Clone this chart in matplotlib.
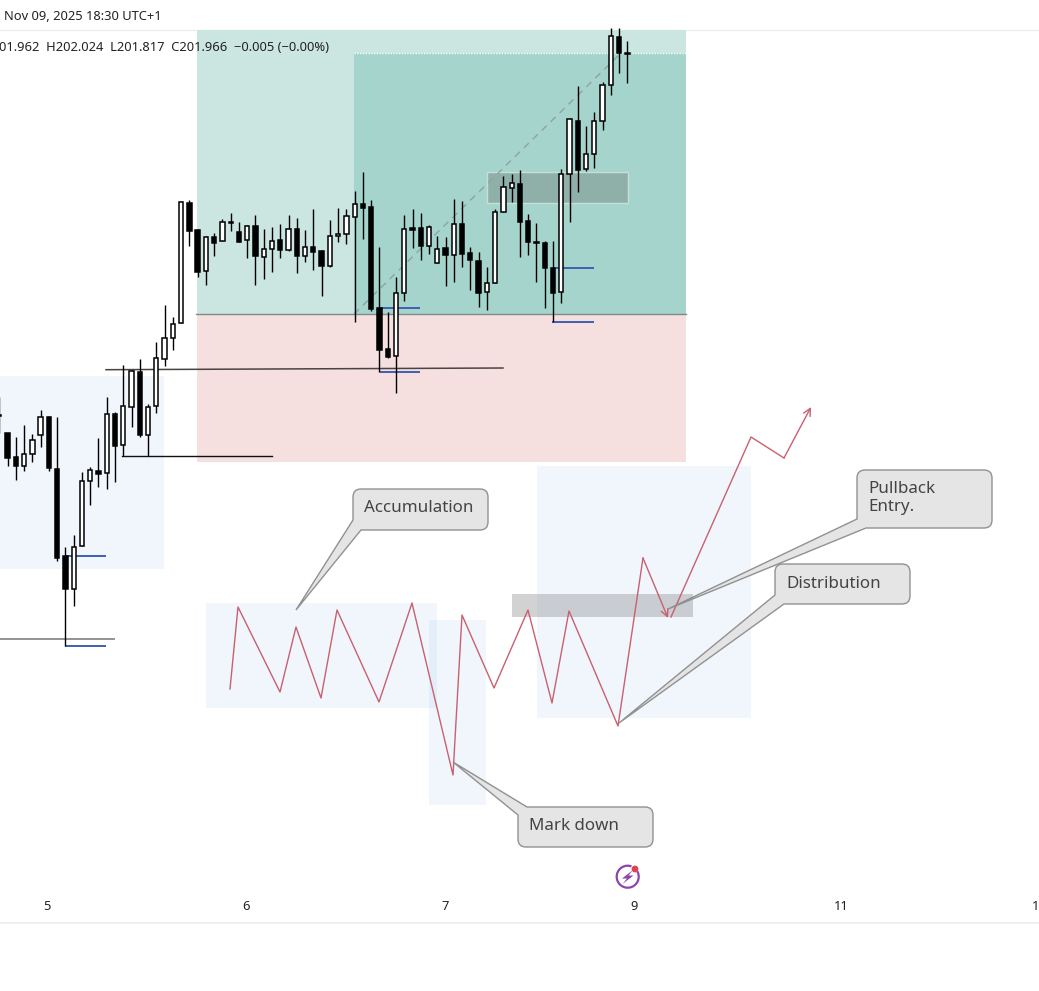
#!/usr/bin/env python3
# -*- coding: utf-8 -*-
import matplotlib
matplotlib.use("Agg")
import matplotlib.pyplot as plt
from matplotlib.patches import Rectangle, PathPatch, Circle, Arc, Polygon
from matplotlib.path import Path

# candle values are read straight off the screenshot, in chart y units (down = larger)
opens = [415, 433, 457, 466, 454, 435, 417, 469, 556, 589, 546, 481, 471, 473, 414, 445, 407, 372, 435, 406,
         359, 338, 323, 203, 230, 271, 237, 241, 222, 232, 240, 226, 257, 249, 240, 250, 229, 256, 247, 251,
         266, 236, 234, 217, 204, 207, 308, 349, 356, 293, 228, 228, 246, 263, 248, 255, 224, 253, 261, 292,
         283, 212, 188, 184, 221, 242, 243, 268, 292, 174, 121, 169, 154, 121, 85, 37, 53]
closes = [415, 458, 466, 454, 440, 417, 468, 558, 589, 547, 481, 470, 474, 414, 446, 406, 371, 435, 407, 358,
          338, 324, 202, 231, 272, 237, 243, 222, 222, 242, 226, 256, 249, 241, 250, 229, 256, 247, 252, 266,
          236, 234, 216, 204, 208, 309, 350, 357, 293, 229, 230, 246, 227, 249, 255, 224, 254, 260, 293, 283,
          212, 187, 183, 222, 242, 242, 268, 293, 174, 119, 170, 154, 121, 85, 36, 53, 53]
highs = [397, 433, 437, 425, 434, 410, 416, 417, 547, 535, 472, 467, 438, 397, 412, 365, 370, 359, 404, 342,
         305, 317, 201, 200, 229, 236, 233, 219, 213, 222, 225, 215, 229, 227, 224, 215, 218, 230, 209, 250,
         220, 208, 209, 191, 172, 200, 247, 312, 277, 215, 209, 213, 225, 236, 237, 199, 201, 247, 252, 267,
         209, 176, 174, 170, 214, 223, 241, 241, 169, 118, 86, 126, 112, 82, 28, 28, 41]
lows = [433, 466, 480, 471, 462, 447, 471, 561, 646, 606, 546, 505, 487, 489, 482, 456, 427, 437, 456, 413,
        366, 350, 323, 246, 277, 285, 256, 241, 231, 242, 258, 285, 279, 272, 258, 251, 273, 262, 270, 296,
        267, 242, 244, 322, 239, 311, 372, 358, 393, 301, 248, 260, 254, 263, 286, 282, 267, 290, 307, 310,
        283, 212, 202, 257, 255, 282, 308, 322, 303, 222, 192, 171, 168, 130, 95, 73, 83]

zigzag_x = [230, 238, 280, 296, 321, 337, 379, 412, 453, 462, 494, 528, 552, 569, 618, 643, 668]
zigzag_y = [689, 607, 692, 627, 698, 610, 702, 603, 775, 615, 688, 610, 703, 611, 726, 558, 618]
rally_x = [671, 751, 784, 811]
rally_y = [617, 437, 458, 407]

date_pos = [47, 246, 445, 634, 841, 1036]
date_labels = ["5", "6", "7", "9", "11", "1"]

header_date = "Nov 09, 2025 18:30 UTC+1"
header_ohlc = "01.962  H202.024  L201.817  C201.966  \u22120.005 (\u22120.00%)"

X0 = -0.7
STEP = 8.264
BODY_W = 4.3
RED = "#c9606f"
UI_FONT = ["Noto Sans", "DejaVu Sans"]

fig = plt.figure(figsize=(10.39, 9.91), dpi=100)
ax = fig.add_axes([0, 0, 1, 1])
ax.set_xlim(0, 1039)
ax.set_ylim(991, 0)
ax.axis("off")


def box(x0, y0, x1, y1, **kw):
    ax.add_patch(Rectangle((x0, y0), x1 - x0, y1 - y0, **kw))


def callout(x0, y0, x1, y1, tip, a, b, top_tail=False):
    # rounded box with the tail cut into its left corner
    r = 8
    C3, L4 = Path.CURVE3, Path.LINETO
    v = [(x1 - r, y0), (x1, y0), (x1, y0 + r), (x1, y1 - r), (x1, y1), (x1 - r, y1)]
    c = [Path.MOVETO, C3, C3, L4, C3, C3]
    if top_tail:
        v += [(x0 + r, y1), (x0, y1), (x0, y1 - r), a, tip, b]
        c += [L4, C3, C3, L4, L4, L4]
    else:
        v += [b, tip, a, (x0, y0 + r), (x0, y0), (x0 + r, y0)]
        c += [L4, L4, L4, L4, C3, C3]
    v.append(v[0])
    c.append(Path.CLOSEPOLY)
    ax.add_patch(PathPatch(Path(v, c), fc="#e4e4e4", ec="#8c8c8c", lw=1, alpha=0.95, zorder=8))


def red_arrow(xs_, ys_):
    # last leg carries the open arrow head
    ax.plot(xs_[:-1], ys_[:-1], color=RED, lw=1, zorder=6)
    ax.annotate("", xy=(xs_[-1], ys_[-1]), xytext=(xs_[-2], ys_[-2]), zorder=6,
                arrowprops=dict(arrowstyle="->", color=RED, lw=1, mutation_scale=13, shrinkA=0, shrinkB=0))


# position boxes
box(197, 30, 686, 314, fc="#cbe6e1", ec="none", zorder=1)
box(354, 53, 686, 314, fc="#a5d4cc", ec="none", zorder=1.1)
box(197, 314, 686, 462, fc="#f6dfdf", ec="none", zorder=1)
ax.plot([196, 686], [313.5, 313.5], color="#7f8a88", lw=1, zorder=2)
ax.plot([354, 686], [53, 53], color="white", lw=1, ls=(0, (1, 1)), zorder=2)

# blue zones
for bx in [(0, 376, 164, 569), (206, 603, 437, 708), (429, 620, 486, 805), (537, 466, 751, 718)]:
    box(*bx, fc="#4d8fe8", alpha=0.075, ec="none", zorder=1.2)

# grey zones
box(487, 172, 628, 203, fc="#8fb0a9", ec="#c5dfd9", lw=1, zorder=2)
box(512, 594, 693, 617, fc="#7f8080", alpha=0.35, ec="none", zorder=2)

ax.plot([354, 622], [314, 52], color="#8fa3a0", lw=1, ls=(0, (5, 4)), zorder=2.5)

# level lines
ax.plot([106, 503], [369.7, 368], color="#4a4343", lw=1.1, zorder=3)
ax.plot([122, 272], [456, 456], color="#111111", lw=1, zorder=3)
ax.plot([0, 114], [639, 639], color="#8a8a8a", lw=1.3, zorder=3)
for lx0, lx1, ly in [(380, 420, 308), (380, 420, 372), (553, 594, 268), (552, 594, 322), (66, 106, 556), (65, 106, 646)]:
    ax.plot([lx0, lx1], [ly, ly], color="#3f5fb5", lw=1.4, zorder=3, solid_capstyle="butt")

# candles
xs = [X0 + STEP * i for i in range(len(opens))]
ax.vlines(xs, highs, lows, color="black", lw=1, zorder=4)
for x, o, c in zip(xs, opens, closes):
    bull = c < o
    h = max(abs(o - c), 0.6)
    ax.bar(x, h, BODY_W, bottom=min(o, c), fc="white" if bull else "black", ec="black", lw=1.1, zorder=5)

# hand drawn path
red_arrow(zigzag_x, zigzag_y)
red_arrow(rally_x, rally_y)

# callouts
callout(353, 489, 488, 530, (296, 610), (353, 520), (361, 530))
callout(857, 470, 992, 528, (668, 609), (857, 519), (866, 528))
callout(775, 564, 910, 604, (619, 723), (775, 595), (784, 604))
callout(518, 807, 653, 847, (453, 762), (518, 815), (527, 807), top_tail=True)

TXT = dict(color="#444444", fontsize=12.2, family=UI_FONT, va="center", zorder=9)
ax.text(364, 508.5, "Accumulation", **TXT)
ax.text(868, 498, "Pullback\nEntry.", linespacing=1.1, **TXT)
ax.text(786, 583.5, "Distribution", **TXT)
ax.text(529, 826.5, "Mark down", **TXT)

# header
ax.text(4, 17, header_date, fontsize=9.3, family=UI_FONT, color="#222222", va="center")
ax.text(-1, 47.5, header_ohlc, fontsize=9.3, family=UI_FONT, color="#222222", va="center", zorder=7)
ax.plot([0, 1039], [30, 30], color="#eeeeee", lw=1, zorder=0.5)
ax.plot([0, 1039], [923, 923], color="#ececec", lw=1.2, zorder=0.5)

# time axis
for x, lab in zip(date_pos, date_labels):
    ax.text(x, 907, lab, fontsize=9.3, family=UI_FONT, color="#222222", ha="center", va="center")

# lightning icon
ax.add_patch(Arc((627.7, 876.7), 22, 22, theta1=-30, theta2=290, color="#8e44ad", lw=1.6, zorder=7))
ax.add_patch(Polygon([(633, 870), (622, 878.5), (627, 878.5), (622.5, 884), (633.5, 875.5), (628.5, 875.5)],
                     fc="#8e44ad", ec="none", zorder=7))
ax.add_patch(Circle((635, 869), 3.4, fc="#e0434b", ec="none", zorder=7.5))

fig.savefig("out.png", dpi=100)
